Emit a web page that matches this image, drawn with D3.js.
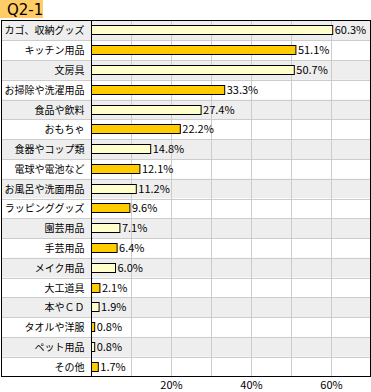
<!DOCTYPE html>
<html lang="ja">
<head>
<meta charset="UTF-8">
<title>Q2-1</title>
<style>
  body { margin: 0; background: #fff; }
  text { font-family: "Noto Sans CJK JP", "DejaVu Sans", sans-serif; font-size: 11px; fill: #000; }
  .cat { font-size: 10px; }
  .title { font-family: "DejaVu Sans", sans-serif; font-size: 15px; }
</style>
</head>
<body>
<svg width="371" height="392"></svg>
<script src="https://cdn.jsdelivr.net/npm/d3@7"></script>
<script>
// Q2-1 horizontal bars, values in %
var categories = ["カゴ、収納グッズ", "キッチン用品", "文房具", "お掃除や洗濯用品", "食品や飲料", "おもちゃ",
    "食器やコップ類", "電球や電池など", "お風呂や洗面用品", "ラッピンググッズ", "園芸用品", "手芸用品",
    "メイク用品", "大工道具", "本やＣＤ", "タオルや洋服", "ペット用品", "その他"];
var values = [60.3, 51.1, 50.7, 33.3, 27.4, 22.2, 14.8, 12.1, 11.2, 9.6, 7.1, 6.4, 6.0, 2.1, 1.9, 0.8, 0.8, 1.7];
var gridTicks = [10, 20, 30, 40, 50, 60];
var axisTicks = [20, 40, 60];

var svg = d3.select("svg"),
    frame = {left: 1.5, right: 370.5, top: 20.5, bottom: 376.5},
    axisX = 91.5;

var x = d3.scaleLinear().domain([0, 10]).range([axisX, axisX + 40]);
var y = d3.scaleBand().domain(categories).range([frame.top, frame.bottom]);

// title tab
svg.append("rect")
    .attr("x", 0).attr("y", 0)
    .attr("width", 43).attr("height", 18)
    .attr("fill", "#ffcc66");
svg.append("text")
    .attr("class", "title")
    .attr("x", 7).attr("y", 15)
    .text("Q2-1");

// row bands
svg.selectAll(".band")
    .data(categories)
    .enter()
    .append("rect")
    .attr("x", frame.left).attr("y", function(d) { return y(d); })
    .attr("width", frame.right - frame.left).attr("height", y.bandwidth())
    .attr("fill", function(d, i) { return i % 2 == 0 ? "#eeeeee" : "#ffffff"; });

// horizontal row lines
svg.selectAll(".hline")
    .data(categories.slice(1))
    .enter()
    .append("line")
    .attr("x1", frame.left).attr("x2", frame.right)
    .attr("y1", function(d) { return Math.round(y(d)) + 0.5; })
    .attr("y2", function(d) { return Math.round(y(d)) + 0.5; })
    .attr("stroke", "#cccccc");

// vertical grid
svg.selectAll(".vline")
    .data(gridTicks)
    .enter()
    .append("line")
    .attr("x1", function(d) { return x(d); }).attr("x2", function(d) { return x(d); })
    .attr("y1", frame.top).attr("y2", frame.bottom)
    .attr("stroke", "#cccccc");

// bars
var barH = 10;
svg.selectAll(".bar")
    .data(values)
    .enter()
    .append("rect")
    .attr("x", axisX)
    .attr("y", function(d, i) { return Math.round(y(categories[i]) + (y.bandwidth() - barH) / 2) + 0.5; })
    .attr("width", function(d) { return x(d) - axisX; })
    .attr("height", barH - 1)
    .attr("fill", function(d, i) { return i % 2 == 0 ? "#ffffcc" : "#ffcc00"; })
    .attr("stroke", "#000")
    .attr("stroke-width", 1);

// value labels
svg.selectAll(".val")
    .data(values)
    .enter()
    .append("text")
    .attr("x", function(d) { return x(d) + 2; })
    .attr("y", function(d, i) { return y(categories[i]) + y.bandwidth() / 2 + 4; })
    .text(function(d) { return d.toFixed(1) + "%"; });

// category labels
svg.selectAll(".cat")
    .data(categories)
    .enter()
    .append("text")
    .attr("class", "cat")
    .attr("x", axisX - 7)
    .attr("y", function(d) { return y(d) + y.bandwidth() / 2 + 4; })
    .style("text-anchor", "end")
    .text(function(d) { return d; });

// frame and axis line
svg.append("rect")
    .attr("x", frame.left).attr("y", frame.top)
    .attr("width", frame.right - frame.left).attr("height", frame.bottom - frame.top)
    .attr("fill", "none").attr("stroke", "#000");
svg.append("line")
    .attr("x1", axisX).attr("x2", axisX)
    .attr("y1", frame.top).attr("y2", frame.bottom)
    .attr("stroke", "#000");

// x tick labels
svg.selectAll(".tick")
    .data(axisTicks)
    .enter()
    .append("text")
    .attr("x", function(d) { return x(d); })
    .attr("y", 389)
    .style("text-anchor", "middle")
    .text(function(d) { return d + "%"; });
</script>
</body>
</html>
